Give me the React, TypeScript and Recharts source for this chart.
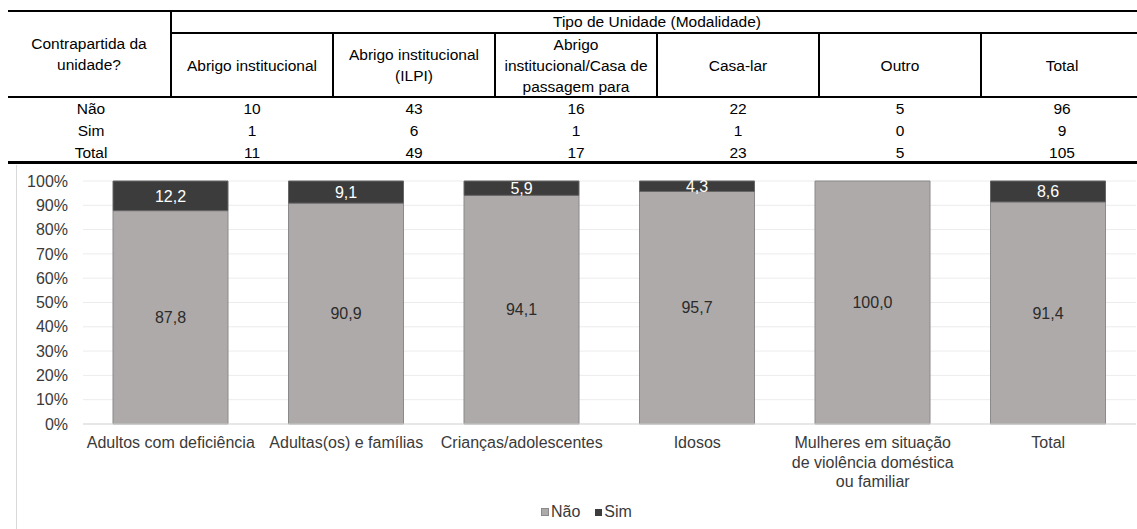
import React from 'react';
import { BarChart, Bar, XAxis, YAxis, CartesianGrid, LabelList } from 'recharts';

// ---------- Table data ----------
const tableTitle = 'Tipo de Unidade (Modalidade)';
const tableCorner = ['Contrapartida da', 'unidade?'];
const tableColumns: string[][] = [
  ['Abrigo institucional'],
  ['Abrigo institucional', '(ILPI)'],
  ['Abrigo', 'institucional/Casa de', 'passagem para'],
  ['Casa-lar'],
  ['Outro'],
  ['Total'],
];
const tableRowLabels = ['Não', 'Sim', 'Total'];
const naoCounts = [10, 43, 16, 22, 5, 96];
const simCounts = [1, 6, 1, 1, 0, 9];
const totalCounts = [11, 49, 17, 23, 5, 105];

// ---------- Chart data ----------
const categories = [
  'Adultos com deficiência',
  'Adultas(os) e famílias',
  'Crianças/adolescentes',
  'Idosos',
  'Mulheres em situação de violência doméstica ou familiar',
  'Total',
];
const tickLines: string[][] = [
  ['Adultos com deficiência'],
  ['Adultas(os) e famílias'],
  ['Crianças/adolescentes'],
  ['Idosos'],
  ['Mulheres em situação', 'de violência doméstica', 'ou familiar'],
  ['Total'],
];
const naoValues = [87.8, 90.9, 94.1, 95.7, 100.0, 91.4];
const simValues = [12.2, 9.1, 5.9, 4.3, 0, 8.6];
const yTicks = [0, 10, 20, 30, 40, 50, 60, 70, 80, 90, 100];
const seriesNames = ['Não', 'Sim'];

const chartData = categories.map((c, i) => ({ name: c, nao: naoValues[i], sim: simValues[i] }));

const FONT = '"Liberation Sans", Arial, Helvetica, sans-serif';
const NAO_COLOR = '#aeaaa9';
const SIM_COLOR = '#3c3c3c';

const COL_X = [170, 332, 494, 656, 818, 980, 1142];
const rowsCounts = [naoCounts, simCounts, totalCounts];

const hLine = (left: number, top: number, width: number, h: number, key: string) => (
  <div key={key} style={{ position: 'absolute', left, top, width, height: h, background: '#000' }} />
);
const vLine = (left: number, top: number, height: number, key: string) => (
  <div key={key} style={{ position: 'absolute', left, top, width: 2, height, background: '#000' }} />
);

const fmt = (v: any) => {
  const n = Number(v);
  if (!n) return '';
  return n.toFixed(1).replace('.', ',');
};

const XTick = (props: any) => {
  const { x, y, payload } = props;
  const idx = categories.indexOf(payload.value);
  const lines = tickLines[idx] || [String(payload.value)];
  return (
    <text x={x} y={y} textAnchor="middle" fill="#3a3a3a" fontSize={16} fontFamily={FONT}>
      {lines.map((l, i) => (
        <tspan key={i} x={x} dy={i === 0 ? '0.71em' : 19.5}>
          {l}
        </tspan>
      ))}
    </text>
  );
};

export default function App() {
  return (
    <div
      style={{
        position: 'absolute',
        left: 0,
        top: 0,
        width: 1137,
        height: 529,
        overflow: 'hidden',
        background: '#fff',
        fontFamily: FONT,
        color: '#000',
      }}
    >
      {/* ---- Table ---- */}
      {hLine(8, 10, 1140, 2, 'top')}
      {hLine(170, 32, 980, 2, 'sub')}
      {hLine(8, 96, 1140, 2, 'hb')}
      {hLine(8, 161, 1140, 3, 'bottom')}
      {vLine(170, 12, 84, 'v0')}
      {COL_X.slice(1, 6).map((x, i) => vLine(x, 33, 63, 'v' + (i + 1)))}

      <div
        style={{
          position: 'absolute',
          left: 172,
          top: 12,
          width: 970,
          height: 20,
          lineHeight: '20px',
          fontSize: 15.5,
          textAlign: 'center',
          whiteSpace: 'nowrap',
        }}
      >
        {tableTitle}
      </div>

      <div
        style={{
          position: 'absolute',
          left: 8,
          top: 12,
          width: 162,
          height: 84,
          display: 'flex',
          flexDirection: 'column',
          justifyContent: 'center',
          alignItems: 'center',
          fontSize: 15.5,
          lineHeight: '21.5px',
          textAlign: 'center',
          whiteSpace: 'nowrap',
        }}
      >
        {tableCorner.map((l, i) => (
          <div key={i}>{l}</div>
        ))}
      </div>

      {tableColumns.map((lines, ci) => (
        <div
          key={'hc' + ci}
          style={{
            position: 'absolute',
            left: COL_X[ci] + 2,
            top: 34,
            width: COL_X[ci + 1] - COL_X[ci] - 2,
            height: 62,
            display: 'flex',
            flexDirection: 'column',
            justifyContent: 'center',
            alignItems: 'center',
            fontSize: 15.5,
            lineHeight: '21px',
            textAlign: 'center',
            whiteSpace: 'nowrap',
            overflow: 'visible',
          }}
        >
          {lines.map((l, i) => (
            <div key={i}>{l}</div>
          ))}
        </div>
      ))}

      {tableRowLabels.map((lab, ri) => (
        <React.Fragment key={'r' + ri}>
          <div
            style={{
              position: 'absolute',
              left: 8,
              top: 98 + ri * 22,
              width: 166,
              height: 22,
              lineHeight: '22px',
              fontSize: 15.5,
              textAlign: 'center',
            }}
          >
            {lab}
          </div>
          {rowsCounts[ri].map((v, ci) => (
            <div
              key={'c' + ci}
              style={{
                position: 'absolute',
                left: COL_X[ci] + 2,
                top: 98 + ri * 22,
                width: COL_X[ci + 1] - COL_X[ci] - 2,
                height: 22,
                lineHeight: '22px',
                fontSize: 15.5,
                textAlign: 'center',
              }}
            >
              {v}
            </div>
          ))}
        </React.Fragment>
      ))}

      {/* ---- Chart frame ---- */}
      <div style={{ position: 'absolute', left: 16, top: 165, width: 1, height: 364, background: '#d9d9d9' }} />

      {/* ---- Chart ---- */}
      <div style={{ position: 'absolute', left: 0, top: 165 }}>
        <BarChart
          width={1137}
          height={364}
          data={chartData}
          margin={{ top: 16, right: 1, left: 23, bottom: 45 }}
          barSize={115}
        >
          <CartesianGrid vertical={false} stroke="#ececec" strokeWidth={1} />
          <XAxis
            dataKey="name"
            interval={0}
            height={60}
            tickLine={false}
            tickSize={0}
            tickMargin={13}
            axisLine={{ stroke: '#d9d9d9' }}
            tick={<XTick />}
          />
          <YAxis
            width={60}
            domain={[0, 100]}
            ticks={yTicks}
            interval={0}
            tickLine={false}
            axisLine={false}
            tickSize={0}
            tickMargin={15}
            tickFormatter={(v: number) => `${v}%`}
            tick={{ fill: '#3a3a3a', fontSize: 16, fontFamily: FONT }}
          />
          <Bar
            dataKey="nao"
            name={seriesNames[0]}
            stackId="a"
            fill={NAO_COLOR}
            stroke="#8a8a8a"
            strokeWidth={1}
            isAnimationActive={false}
          >
            <LabelList
              dataKey="nao"
              position="center"
              formatter={fmt}
              fill="#2b2b2b"
              fontSize={16}
              fontFamily={FONT}
            />
          </Bar>
          <Bar
            dataKey="sim"
            name={seriesNames[1]}
            stackId="a"
            fill={SIM_COLOR}
            stroke="#666"
            strokeWidth={1}
            isAnimationActive={false}
          >
            <LabelList
              dataKey="sim"
              position="center"
              formatter={fmt}
              fill="#ffffff"
              fontSize={16}
              fontFamily={FONT}
            />
          </Bar>
        </BarChart>
      </div>

      {/* ---- Legend ---- */}
      <div
        style={{
          position: 'absolute',
          left: 541,
          top: 502,
          height: 20,
          lineHeight: '20px',
          fontSize: 16,
          color: '#3a3a3a',
          display: 'flex',
          alignItems: 'center',
          whiteSpace: 'nowrap',
        }}
      >
        <span style={{ display: 'inline-block', width: 6, height: 6, background: NAO_COLOR, border: '0.5px solid #8a8a8a', marginRight: 2 }} />
        <span>{seriesNames[0]}</span>
        <span style={{ display: 'inline-block', width: 7, height: 7, background: SIM_COLOR, marginLeft: 15, marginRight: 2 }} />
        <span>{seriesNames[1]}</span>
      </div>
    </div>
  );
}
